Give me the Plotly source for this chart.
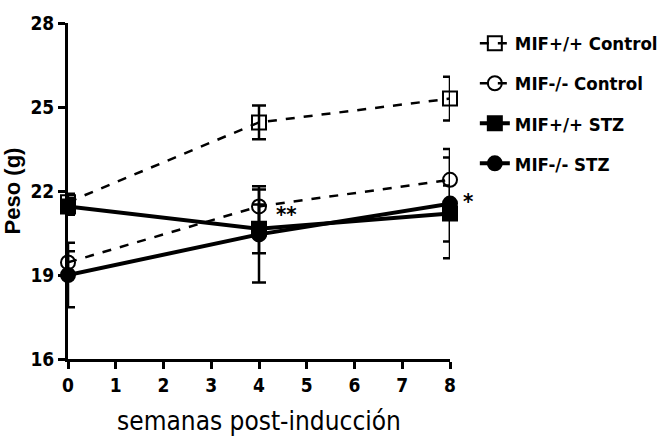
import plotly.graph_objects as go

weeks = [0, 4, 8]
series_names = ["MIF+/+ Control", "MIF-/- Control", "MIF+/+ STZ", "MIF-/- STZ"]
wt_ctrl = [21.6, 24.45, 25.3]
wt_ctrl_err = [0.3, 0.6, 0.78]
ko_ctrl = [19.45, 21.45, 22.4]
ko_ctrl_err = [0.4, 0.6, 0.8]
wt_stz = [21.45, 20.65, 21.2]
wt_stz_err = [0.3, 0.87, 1.0]
ko_stz = [19.0, 20.45, 21.55]
ko_stz_err = [1.15, 1.72, 1.95]
x_ticks = [0, 1, 2, 3, 4, 5, 6, 7, 8]
y_ticks = [16, 19, 22, 25, 28]

NARROW = "DejaVu Sans Condensed, Liberation Sans Narrow, Arial Narrow, Liberation Sans, sans-serif"

fig = go.Figure()

def add(name, y, err, symbol, dash, lw, group):
    fig.add_trace(go.Scatter(
        x=weeks, y=y, name=name, mode="lines+markers",
        line=dict(color="black", width=lw, dash=dash),
        marker=dict(symbol=symbol, size=14, color="black",
                    line=dict(color="black", width=2)),
        error_y=dict(type="data", array=err, visible=True, color="black",
                     thickness=2.5, width=7),
        cliponaxis=False, legendgroup=group,
    ))

add(series_names[0], wt_ctrl, wt_ctrl_err, "square-open", "dash", 2.5, "a")
add(series_names[1], ko_ctrl, ko_ctrl_err, "circle-open", "dash", 2.5, "b")
add(series_names[2], wt_stz, wt_stz_err, "square", "solid", 4, "c")
add(series_names[3], ko_stz, ko_stz_err, "circle", "solid", 4, "d")

fig.add_annotation(x=4, y=20.65, xshift=27, yshift=14, text="**", showarrow=False,
                   font=dict(size=22, color="black", family=NARROW, weight="bold"))
fig.add_annotation(x=8, y=21.55, xshift=18, yshift=2, text="*", showarrow=False,
                   font=dict(size=22, color="black", family=NARROW, weight="bold"))

fig.update_layout(
    width=667, height=446,
    margin=dict(l=68, r=217, t=23, b=87, autoexpand=False),
    plot_bgcolor="white", paper_bgcolor="white",
    showlegend=True,
    legend=dict(x=1.065, y=0.995, xanchor="left", yanchor="top",
                traceorder="grouped", tracegroupgap=13,
                font=dict(size=18.5, color="black", family=NARROW, weight="bold"),
                bgcolor="rgba(0,0,0,0)", itemwidth=30),
    xaxis=dict(range=[0, 8], tickvals=x_ticks,
               showline=True, linecolor="black", linewidth=3,
               ticks="outside", ticklen=7, tickwidth=3, tickcolor="black",
               showgrid=False, zeroline=False,
               tickfont=dict(size=19, color="black", family=NARROW, weight="bold"),
               title=dict(text="semanas post-inducción", standoff=18,
                          font=dict(size=26, color="black", family=NARROW))),
    yaxis=dict(range=[16, 28], tickvals=y_ticks,
               showline=True, linecolor="black", linewidth=3,
               ticks="outside", ticklen=7, tickwidth=3, tickcolor="black",
               showgrid=False, zeroline=False,
               tickfont=dict(size=19, color="black", family=NARROW, weight="bold"),
               title=dict(text="Peso (g)", standoff=10,
                          font=dict(size=22, color="black", family="Liberation Sans, Arial, sans-serif", weight="bold"))),
)

fig.write_html("out.html")
